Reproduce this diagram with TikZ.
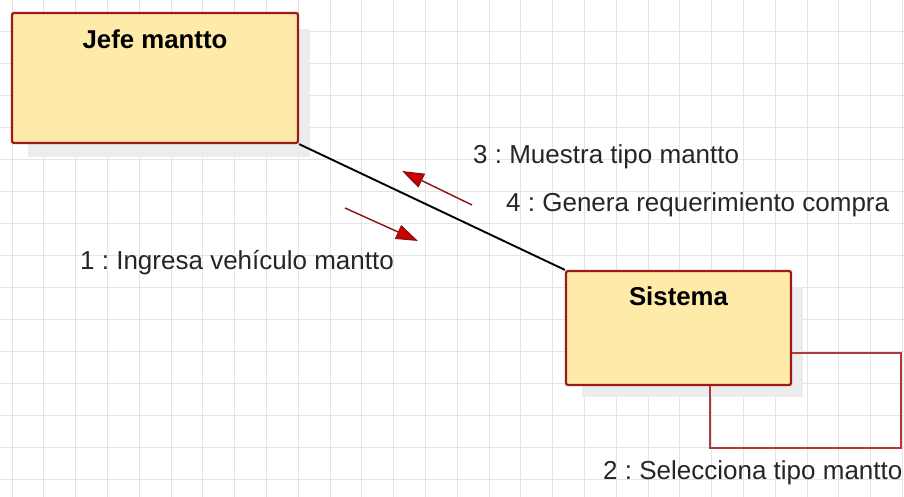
\documentclass[tikz,border=0pt]{standalone}
\usepackage{fontspec}
\setmainfont{Liberation Sans}
\usetikzlibrary{arrows.meta,calc}
\definecolor{boxfill}{HTML}{FEEBAA}
\definecolor{boxline}{HTML}{9E1A1A}
\definecolor{loopline}{HTML}{B03A3A}
\definecolor{arrline}{HTML}{8B1010}
\definecolor{arrhead}{HTML}{D00000}
\definecolor{gridc}{HTML}{E4E4E4}
\definecolor{txt}{HTML}{262626}
\definecolor{shad}{HTML}{ECECEC}
\tikzset{
  x=1pt, y=-1pt,
  classbox/.style={draw=boxline, line width=2.2pt, fill=boxfill, rounded corners=2pt, inner sep=0pt},
  title/.style={font=\fontsize{25.8}{30}\selectfont\bfseries, text=black, inner sep=0pt},
  msg/.style={font=\fontsize{26}{30}\selectfont, text=txt, inner sep=0pt, anchor=west},
  msgarrow/.style={draw=arrline, line width=1.4pt, -{Triangle[length=22pt,width=15pt,fill=arrhead]}},
  link/.style={draw=black, line width=1.9pt},
  selfloop/.style={draw=loopline, line width=1.8pt}
}
\frenchspacing
\begin{document}
\begin{tikzpicture}
\useasboundingbox (0,0) rectangle (904,497);
\fill[white] (0,0) rectangle (904,497);
% grid
\foreach \i in {0,...,28} {\draw[gridc, line width=0.8pt] ({12+31.8*\i},0) -- ({12+31.8*\i},497);}
\foreach \j in {1,...,15} {\draw[gridc, line width=0.8pt] (0,{32*\j-1}) -- (904,{32*\j-1});}
% shadows
\fill[shad] (28,29) rectangle (310,157);
\fill[shad] (582,287) rectangle (803,397);
% boxes
\node[classbox, minimum width=286pt, minimum height=130pt] (jefe) at (155,78) {};
\node[title] (jefet) at ($(jefe.north)+(0,27)$) {Jefe mantto};
\node[classbox, minimum width=225pt, minimum height=114pt] (sis) at (678.5,328) {};
\node[title] (sist) at ($(sis.north)+(0,26)$) {Sistema};
% link
\draw[link] (jefe.south east) -- (sis.north west);
% self loop
\coordinate (lc) at (901,448);
\draw[selfloop] ($(sis.south east)+(0,-33)$) -| (lc) -| ($(sis.south west)+(145,0)$);
% message arrows
\coordinate (a1s) at (345,208);
\coordinate (a1e) at (418,241);
\coordinate (a2s) at (472,205);
\coordinate (a2e) at (402,171);
\draw[msgarrow] (a1s) -- (a1e);
\draw[msgarrow] (a2s) -- (a2e);
% labels
\node[msg] (m3) at (473,157) {3 : Muestra tipo mantto};
\node[msg] (m4) at (506,205) {4 : Genera requerimiento compra};
\node[msg] (m1) at (80,263) {1 : Ingresa vehículo mantto};
\node[msg] (m2) at (603,473) {2 : Selecciona tipo mantto};
\end{tikzpicture}
\end{document}
